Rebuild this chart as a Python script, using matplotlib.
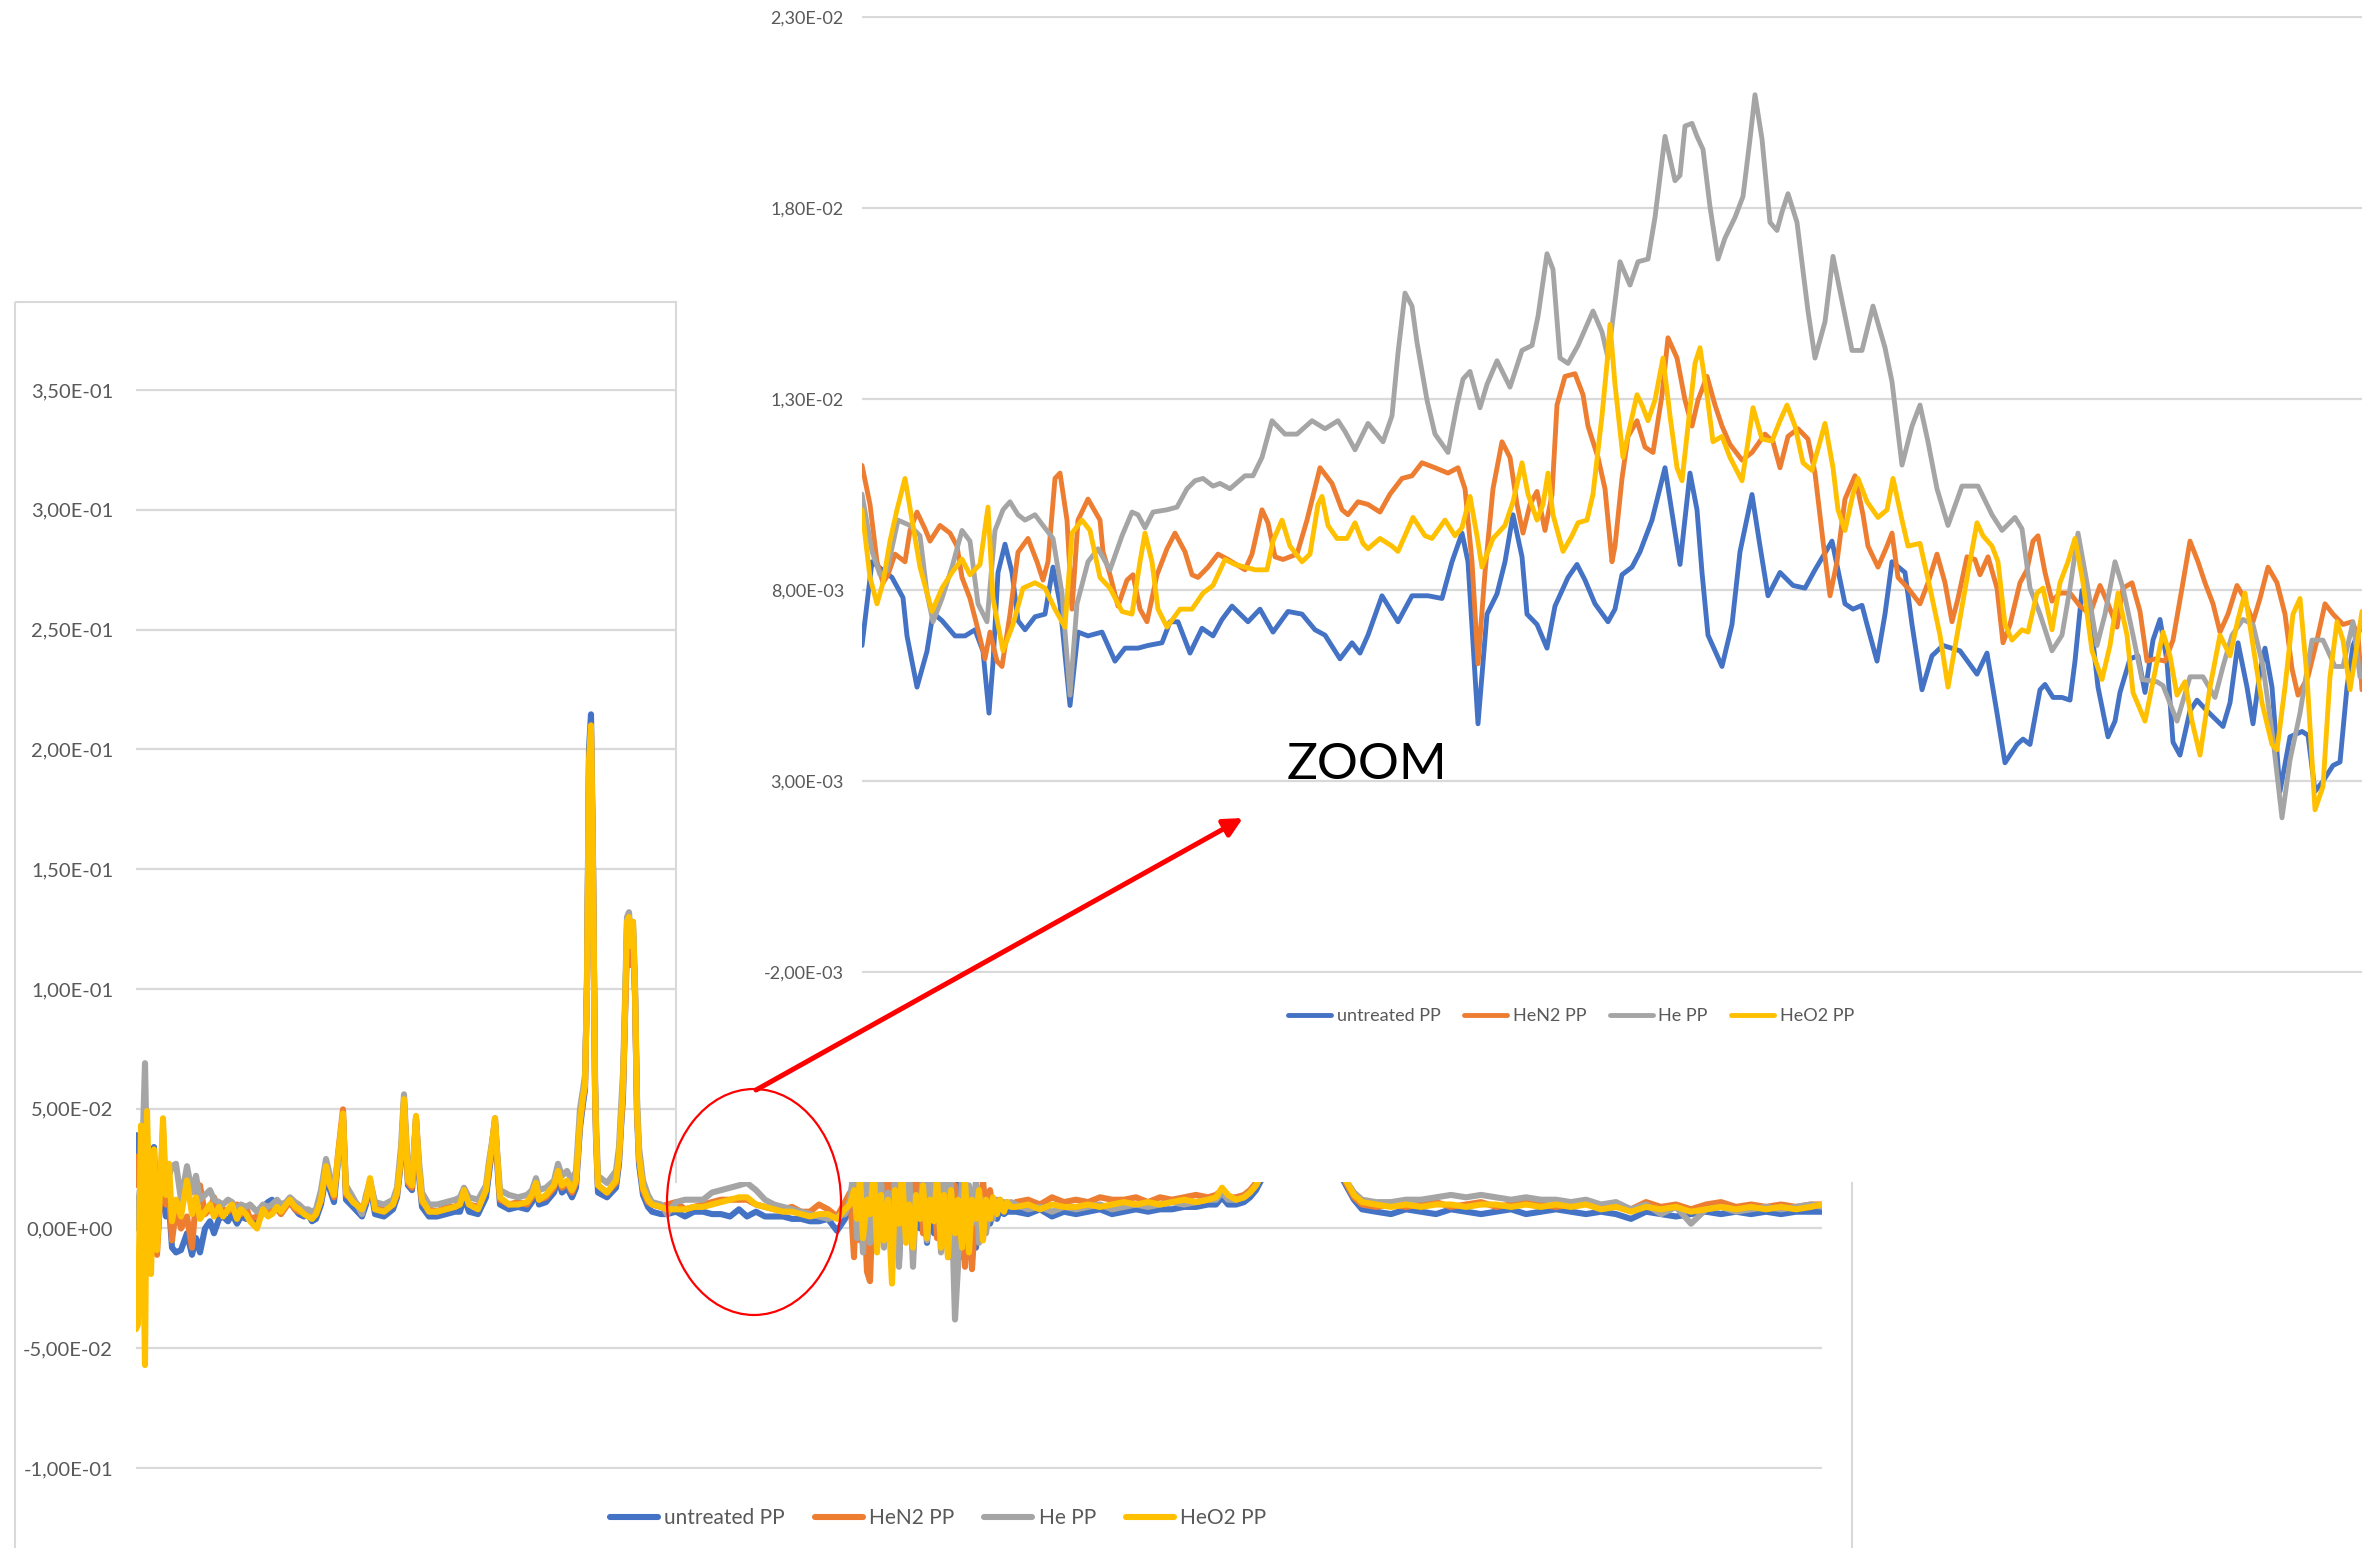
import numpy as np
import matplotlib

matplotlib.use("Agg")
import matplotlib.pyplot as plt
from matplotlib.patches import Rectangle, Ellipse, FancyArrowPatch
from matplotlib.lines import Line2D

plt.rcParams["font.family"] = ["Lato", "DejaVu Sans"]

W, H = 2371, 1548

SERIES = ["untreated PP", "HeN2 PP", "He PP", "HeO2 PP"]
COLORS = ["#4472C4", "#ED7D31", "#A5A5A5", "#FFC000"]
GRID = "#D9D9D9"
TXT = "#595959"

# ---------------- full scan (channel index, absorbance) ----------------
big_x = [
    0, 2, 5, 7, 9, 11, 15, 18, 21, 24, 27, 30, 33, 36, 40, 45,
    51, 56, 60, 64, 69, 74, 78, 83, 87, 92, 96, 101, 105, 110, 114, 121, 127, 132, 136, 141,
    145, 150, 154, 159, 163, 168, 172, 176, 180,
    185, 190, 194, 198, 202, 207, 210, 217, 226, 230, 234, 239, 248, 257, 261, 265, 268, 272, 276, 280,
    283, 286, 293, 301, 310, 319, 324, 328, 333, 342, 350, 353, 356, 359, 362, 364, 373, 382, 391, 396,
    400, 403, 410, 418, 422, 426, 431, 436, 440, 444, 447, 449, 451, 453, 455, 457, 459, 460, 462, 471,
    480, 483, 485, 487, 489, 491, 493, 495, 497, 499, 501, 503, 507, 512, 516, 525,
    531, 540, 549, 558, 567, 576, 585, 594, 603, 611, 620, 629, 638, 647, 656, 665, 674, 683, 692, 701, 709,
    714, 718, 721, 724, 727, 731, 734, 738, 741, 745, 748, 752, 756, 759, 763, 766, 770, 773, 777, 780,
    784, 787, 791, 794, 798, 801, 805, 808, 812, 815, 819, 822, 826, 829, 833, 836, 840, 843, 847, 850,
    854, 857, 861, 864, 868, 871, 875,
    880, 892, 904, 916, 928, 940, 952, 964, 976, 988, 1000, 1012, 1024, 1036, 1048, 1060, 1072, 1080,
    1086, 1092, 1100, 1108, 1114, 1120, 1125,
    1135, 1150, 1165, 1180, 1195, 1205,
    1210, 1218, 1226, 1240, 1255, 1270, 1285, 1300, 1315, 1330, 1345, 1360, 1375, 1390, 1405, 1420,
    1435, 1450, 1465, 1480, 1495, 1510, 1525, 1540, 1555, 1570, 1585, 1600, 1615, 1630, 1645, 1660,
    1675, 1686,
]

big_untreated = [
    0.039, 0.020, 0.030, 0.010, -0.020, 0.035, 0.000, 0.034, -0.006, 0.010, 0.025, 0.005, 0.010, -0.008, -0.010, -0.009,
    -0.002, -0.011, -0.004, -0.010, 0.000, 0.003, -0.002, 0.004, 0.005, 0.003, 0.006, 0.002, 0.005, 0.004, 0.004,
    0.003, 0.009, 0.011, 0.012, 0.008, 0.007, 0.010, 0.011, 0.008, 0.006, 0.005, 0.006, 0.003, 0.004,
    0.010, 0.022, 0.016, 0.011, 0.028, 0.046, 0.012, 0.009, 0.005, 0.010, 0.019, 0.006, 0.005, 0.008, 0.013,
    0.028, 0.052, 0.018, 0.016, 0.045, 0.022, 0.009, 0.005, 0.005, 0.006, 0.007, 0.007, 0.013, 0.007, 0.006,
    0.013, 0.023, 0.033, 0.044, 0.022, 0.010, 0.008, 0.009, 0.008, 0.011, 0.016, 0.010, 0.011, 0.015, 0.021,
    0.015, 0.017, 0.013, 0.017, 0.042, 0.052, 0.058, 0.105, 0.200, 0.2146, 0.155, 0.058, 0.038, 0.015, 0.013,
    0.017, 0.027, 0.042, 0.055, 0.088, 0.125, 0.127, 0.115, 0.125, 0.098, 0.048, 0.027, 0.014, 0.009, 0.007, 0.006,
    0.006, 0.007, 0.005, 0.007, 0.007, 0.006, 0.006, 0.005, 0.008, 0.005, 0.007, 0.005, 0.005, 0.005, 0.004,
    0.004, 0.003, 0.003, 0.004, -0.001, 0.004,
    0.008, 0.026, -0.002, 0.020, 0.000, 0.028, -0.004, 0.015, -0.008, 0.030, 0.002, 0.010, -0.006, 0.022, -0.014,
    0.015, -0.002, 0.018, -0.010, 0.020, 0.000, 0.028, -0.006, 0.016, -0.002, 0.030, -0.004, 0.022, -0.010, 0.018,
    0.000, 0.020, -0.012, 0.015, -0.004, 0.012, -0.008, 0.010, -0.003, 0.008, 0.002, 0.006, 0.004, 0.008, 0.006,
    0.007, 0.007,
    0.007, 0.006, 0.008, 0.005, 0.007, 0.006, 0.007, 0.008, 0.006, 0.007, 0.008, 0.007, 0.008, 0.008, 0.009,
    0.009, 0.010, 0.010, 0.013, 0.010, 0.010, 0.011, 0.013, 0.016, 0.020,
    0.028, 0.043, 0.057, 0.048, 0.033, 0.022,
    0.018, 0.012, 0.008, 0.007, 0.006, 0.008, 0.007, 0.006, 0.008, 0.007, 0.006, 0.007, 0.008, 0.006, 0.007,
    0.008, 0.007, 0.006, 0.007, 0.006, 0.004, 0.007, 0.006, 0.005, 0.006, 0.007, 0.006, 0.007, 0.006, 0.007,
    0.006, 0.007, 0.007, 0.007,
]

big_hen2 = [
    0.030, 0.018, 0.025, 0.005, -0.015, 0.030, -0.005, 0.025, -0.011, 0.012, 0.041, 0.010, 0.015, -0.005, 0.008, 0.000,
    0.005, -0.008, 0.012, 0.018, 0.006, 0.008, 0.013, 0.006, 0.008, 0.007, 0.009, 0.010, 0.006, 0.009, 0.004,
    0.005, 0.006, 0.008, 0.007, 0.008, 0.006, 0.009, 0.011, 0.008, 0.007, 0.007, 0.006, 0.005, 0.006,
    0.012, 0.024, 0.019, 0.013, 0.031, 0.0497, 0.014, 0.012, 0.008, 0.011, 0.020, 0.009, 0.008, 0.010, 0.014,
    0.029, 0.053, 0.019, 0.017, 0.046, 0.024, 0.011, 0.008, 0.007, 0.009, 0.009, 0.011, 0.016, 0.010, 0.009,
    0.016, 0.025, 0.035, 0.046, 0.024, 0.012, 0.010, 0.011, 0.010, 0.013, 0.018, 0.012, 0.013, 0.017, 0.023,
    0.017, 0.019, 0.015, 0.019, 0.044, 0.054, 0.060, 0.100, 0.193, 0.208, 0.150, 0.060, 0.040, 0.018, 0.015,
    0.019, 0.029, 0.044, 0.058, 0.090, 0.115, 0.122, 0.110, 0.120, 0.098, 0.050, 0.030, 0.016, 0.011, 0.010, 0.009,
    0.010, 0.011, 0.008, 0.009, 0.010, 0.011, 0.012, 0.012, 0.012, 0.012, 0.010, 0.009, 0.008, 0.008, 0.009,
    0.007, 0.007, 0.010, 0.008, 0.005, 0.011,
    0.015, -0.012, 0.028, -0.005, 0.020, -0.018, -0.022, 0.025, 0.002, 0.018, -0.004, 0.026, 0.000, -0.010, 0.020,
    0.005, 0.015, -0.004, 0.024, 0.010, 0.030, -0.002, 0.018, 0.006, 0.022, -0.004, 0.015, 0.000, 0.020, -0.012,
    0.018, -0.008, 0.006, -0.016, 0.012, -0.017, 0.010, 0.004, 0.020, 0.006, 0.016, 0.008, 0.010, 0.012, 0.008,
    0.011, 0.010,
    0.011, 0.012, 0.010, 0.013, 0.011, 0.012, 0.011, 0.013, 0.012, 0.012, 0.013, 0.011, 0.013, 0.012, 0.013,
    0.014, 0.013, 0.014, 0.016, 0.013, 0.013, 0.014, 0.016, 0.019, 0.022,
    0.030, 0.046, 0.058, 0.050, 0.036, 0.024,
    0.019, 0.013, 0.010, 0.009, 0.010, 0.009, 0.010, 0.011, 0.009, 0.010, 0.011, 0.009, 0.010, 0.011, 0.010,
    0.009, 0.010, 0.011, 0.009, 0.010, 0.008, 0.011, 0.009, 0.010, 0.008, 0.010, 0.011, 0.009, 0.010, 0.009,
    0.010, 0.009, 0.010, 0.010,
]

big_he = [
    0.000, 0.010, 0.020, 0.040, 0.069, 0.025, 0.010, 0.028, 0.015, 0.020, 0.030, 0.018, 0.022, 0.026, 0.027, 0.012,
    0.026, 0.015, 0.022, 0.012, 0.014, 0.016, 0.012, 0.011, 0.010, 0.012, 0.011, 0.008, 0.010, 0.009, 0.010,
    0.007, 0.010, 0.009, 0.010, 0.012, 0.010, 0.011, 0.013, 0.011, 0.010, 0.008, 0.008, 0.007, 0.008,
    0.016, 0.029, 0.022, 0.017, 0.028, 0.046, 0.018, 0.013, 0.006, 0.014, 0.020, 0.011, 0.010, 0.012, 0.017,
    0.034, 0.056, 0.023, 0.021, 0.046, 0.028, 0.015, 0.010, 0.010, 0.011, 0.012, 0.013, 0.017, 0.013, 0.012,
    0.018, 0.028, 0.036, 0.045, 0.027, 0.016, 0.014, 0.013, 0.014, 0.016, 0.021, 0.016, 0.017, 0.020, 0.027,
    0.022, 0.024, 0.020, 0.024, 0.050, 0.058, 0.064, 0.100, 0.190, 0.205, 0.150, 0.065, 0.045, 0.022, 0.019,
    0.024, 0.034, 0.050, 0.065, 0.095, 0.130, 0.132, 0.120, 0.128, 0.102, 0.055, 0.034, 0.020, 0.014, 0.011, 0.010,
    0.006, 0.011, 0.012, 0.012, 0.012, 0.015, 0.016, 0.017, 0.018, 0.019, 0.016, 0.012, 0.010, 0.009, 0.008,
    0.007, 0.006, 0.005, 0.004, 0.005, 0.006,
    0.012, 0.025, -0.004, 0.015, -0.010, 0.030, -0.006, 0.020, 0.000, 0.022, -0.008, 0.015, -0.004, 0.026, -0.016,
    0.018, 0.000, 0.025, -0.016, 0.012, 0.006, 0.024, -0.005, 0.020, 0.004, 0.026, -0.010, 0.030, -0.012, 0.020,
    -0.038, -0.016, 0.022, -0.004, 0.018, 0.002, 0.020, -0.006, 0.012, -0.002, 0.010, 0.004, 0.012, 0.008, 0.011,
    0.009, 0.011,
    0.010, 0.008, 0.009, 0.007, 0.009, 0.008, 0.009, 0.010, 0.008, 0.009, 0.010, 0.009, 0.010, 0.011, 0.010,
    0.011, 0.012, 0.012, 0.015, 0.012, 0.012, 0.013, 0.015, 0.018, 0.022,
    0.030, 0.046, 0.061, 0.052, 0.036, 0.025,
    0.020, 0.015, 0.012, 0.011, 0.011, 0.012, 0.012, 0.013, 0.014, 0.013, 0.014, 0.013, 0.012, 0.013, 0.012,
    0.012, 0.011, 0.012, 0.010, 0.011, 0.008, 0.010, 0.006, 0.009, 0.002, 0.008, 0.009, 0.007, 0.008, 0.009,
    0.008, 0.009, 0.010, 0.009,
]

big_heo2 = [
    -0.042, -0.040, 0.043, 0.001, -0.057, 0.049, -0.019, 0.033, -0.009, 0.015, 0.046, 0.014, 0.027, 0.003, 0.012, 0.005,
    0.020, 0.006, 0.013, 0.004, 0.007, 0.010, 0.005, 0.009, 0.005, 0.008, 0.010, 0.004, 0.008, 0.006, 0.003,
    0.000, 0.008, 0.005, 0.006, 0.009, 0.007, 0.010, 0.012, 0.009, 0.008, 0.006, 0.005, 0.004, 0.006,
    0.012, 0.026, 0.018, 0.014, 0.030, 0.048, 0.015, 0.011, 0.008, 0.012, 0.021, 0.008, 0.007, 0.010, 0.015,
    0.030, 0.054, 0.020, 0.018, 0.047, 0.025, 0.012, 0.007, 0.007, 0.008, 0.009, 0.010, 0.016, 0.010, 0.008,
    0.016, 0.026, 0.035, 0.046, 0.025, 0.013, 0.010, 0.010, 0.011, 0.014, 0.019, 0.012, 0.014, 0.018, 0.024,
    0.018, 0.020, 0.016, 0.020, 0.045, 0.055, 0.060, 0.100, 0.195, 0.210, 0.150, 0.060, 0.040, 0.018, 0.015,
    0.020, 0.030, 0.045, 0.060, 0.090, 0.128, 0.130, 0.118, 0.128, 0.100, 0.050, 0.030, 0.017, 0.012, 0.010, 0.009,
    0.008, 0.008, 0.008, 0.009, 0.009, 0.010, 0.011, 0.012, 0.013, 0.013, 0.010, 0.009, 0.008, 0.007, 0.007,
    0.006, 0.005, 0.006, 0.006, 0.004, 0.008,
    0.010, 0.016, 0.004, 0.022, -0.004, 0.012, 0.006, 0.025, -0.010, 0.014, -0.005, 0.012, -0.023, 0.016, 0.002,
    0.024, -0.006, 0.010, -0.008, 0.014, 0.004, 0.018, -0.004, 0.012, 0.003, 0.022, -0.008, 0.014, -0.012, 0.016,
    -0.002, 0.012, -0.008, 0.020, -0.010, 0.012, 0.004, 0.016, -0.005, 0.012, 0.004, 0.013, 0.006, 0.012, 0.007,
    0.011, 0.009,
    0.009, 0.010, 0.008, 0.010, 0.009, 0.009, 0.010, 0.009, 0.010, 0.011, 0.010, 0.011, 0.010, 0.011, 0.012,
    0.011, 0.012, 0.013, 0.017, 0.014, 0.012, 0.013, 0.015, 0.018, 0.022,
    0.030, 0.045, 0.060, 0.050, 0.035, 0.024,
    0.020, 0.014, 0.011, 0.010, 0.009, 0.010, 0.009, 0.010, 0.010, 0.009, 0.010, 0.010, 0.009, 0.010, 0.009,
    0.010, 0.009, 0.010, 0.008, 0.009, 0.007, 0.009, 0.008, 0.009, 0.007, 0.008, 0.009, 0.008, 0.009, 0.008,
    0.009, 0.008, 0.009, 0.010,
]

big_ticks = [-0.10, -0.05, 0.00, 0.05, 0.10, 0.15, 0.20, 0.25, 0.30, 0.35]

# ---------------- zoomed window (channel index, absorbance x 1e-3) ----------------
zoom_untreated_x = [
    0, 10, 30, 41, 45, 55, 65, 71, 80, 93, 103, 113, 121, 127, 131, 136, 143, 150, 156, 163,
    173, 183, 191, 198, 208, 216, 226, 240, 253, 263, 276, 286, 300, 308, 316, 328, 340, 351, 360, 370,
    386, 398, 411, 426, 440, 453, 463, 478, 490, 498, 506, 520, 536, 550, 566, 580, 590, 600, 606, 616,
    625, 635, 643, 651, 660, 665, 675, 685, 693, 706, 715, 723, 733, 746,
    753, 760, 770, 778, 790, 803, 818, 828, 835, 840, 846, 860, 870, 878, 890, 898, 906, 918, 931, 943,
    953, 970, 983, 991, 1000, 1005, 1015, 1023, 1030, 1043, 1050, 1060, 1070, 1081, 1098, 1115, 1125,
    1135, 1143, 1155, 1161, 1168, 1178, 1183, 1191, 1200, 1208, 1213, 1220, 1228, 1236, 1246, 1253, 1258,
    1268, 1276, 1283, 1291, 1298, 1305, 1311, 1318, 1328, 1335, 1345, 1361, 1368, 1376, 1385, 1391, 1398,
    1403, 1410, 1418, 1428, 1440, 1446, 1453, 1461, 1471, 1478, 1485, 1491, 1500,
]
zoom_untreated = [
    6.55, 8.74, 8.33, 7.8, 6.8, 5.46, 6.4, 7.4, 7.2, 6.8, 6.8, 6.96, 6.4, 4.78, 6.1, 8.46, 9.2, 8.46, 7.2, 6.96,
    7.3, 7.37, 8.6, 7.64, 4.98, 6.9, 6.8, 6.9, 6.14, 6.48, 6.48, 6.55, 6.62, 7.17, 7.17, 6.35, 7.0, 6.8, 7.23, 7.58,
    7.17, 7.5, 6.9, 7.44, 7.37, 6.96, 6.82, 6.2, 6.62, 6.35, 6.82, 7.85, 7.17, 7.85, 7.85, 7.78, 8.74, 9.49, 8.74, 4.5,
    7.37, 7.9, 8.74, 9.97, 8.87, 7.37, 7.1, 6.48, 7.58, 8.33, 8.67, 8.26, 7.64, 7.17,
    7.5, 8.4, 8.6, 9.0, 9.83, 11.2, 8.67, 11.06, 10.1, 8.46, 6.82, 6.0, 7.1, 9.0, 10.5, 9.15, 7.85, 8.46, 8.12, 8.05,
    8.53, 9.28, 7.64, 7.5, 7.6, 7.1, 6.14, 7.37, 8.74, 8.46, 7.1, 5.39, 6.28, 6.55, 6.41, 5.8, 6.35,
    4.78, 3.48, 3.96, 4.1, 3.96, 5.39, 5.53, 5.19, 5.19, 5.12, 6.14, 7.99, 7.37, 5.46, 4.16, 4.57, 5.32,
    6.2, 6.28, 5.32, 6.69, 7.23, 6.14, 4.02, 3.68, 4.84, 5.12, 4.84, 4.43, 5.05, 6.62, 5.46, 4.5, 5.87,
    6.48, 5.46, 2.73, 4.16, 4.3, 4.2, 2.73, 3.0, 3.41, 3.5, 5.46, 6.55, 7.1,
]

zoom_hen2_x = [
    0, 8, 15, 21, 26, 33, 43, 48, 55, 63, 68, 78, 88, 95, 100, 108, 116, 123, 128, 135,
    140, 148, 156, 166, 175, 181, 186, 193, 198, 205, 210, 216, 226, 238, 241, 248, 256, 265, 271, 278,
    285, 295, 305, 313, 323, 330, 336, 346, 356, 366, 383,
    390, 400, 406, 413, 421, 435, 445, 458, 470, 480, 486, 496, 506, 518, 528, 540, 550, 560, 573, 586,
    596, 603, 610, 616, 623, 631, 640, 648, 655, 661, 668, 675, 683, 690, 695, 703, 713, 721, 726, 736,
    743, 750,
    753, 760, 766, 775, 783, 791, 800, 806, 815, 823, 830, 836, 845, 853, 860, 868, 880, 890, 903, 911,
    918, 926, 936, 946, 953, 961, 968, 975, 983, 993, 1001, 1006, 1016, 1025, 1030, 1036, 1046, 1058, 1066, 1075,
    1083, 1090, 1096, 1105, 1113, 1118, 1126,
    1135, 1141, 1148, 1158, 1165, 1171, 1176, 1183, 1190, 1198, 1208, 1218, 1228, 1238, 1246, 1255, 1261, 1270,
    1278, 1285, 1293, 1303, 1311, 1320, 1328, 1336, 1343, 1351, 1358, 1366, 1375, 1381, 1391, 1398, 1406, 1415,
    1423, 1430, 1436, 1446, 1455, 1463, 1471, 1481, 1490, 1496, 1500,
]
zoom_hen2 = [
    11.26, 10.24, 8.74, 8.19, 8.4, 8.94, 8.74, 9.56, 10.04, 9.6, 9.28, 9.69, 9.49, 9.15, 8.33, 7.78, 6.96, 6.2, 6.9, 6.14,
    6.0, 7.37, 8.99, 9.35, 8.74, 8.26, 8.74, 10.92, 11.06, 9.83, 7.5, 9.83, 10.38, 9.83, 9.0, 8.4, 7.58, 8.26, 8.4, 7.5,
    7.17, 8.4, 9.08, 9.49, 9.0, 8.4, 8.33, 8.6, 8.94, 8.8, 8.53,
    8.94, 10.1, 9.76, 8.87, 8.8, 8.94, 9.83, 11.2, 10.79, 10.1, 9.97, 10.31, 10.24, 10.04, 10.51, 10.92, 10.99, 11.33, 11.2, 11.06,
    11.2, 10.65, 8.74, 6.07, 8.46, 10.65, 11.88, 11.47, 10.24, 9.49, 10.24, 10.58, 9.56, 10.5, 12.84, 13.59, 13.66, 13.11, 12.29, 11.47,
    10.65, 8.74,
    9.15, 10.92, 12.02, 12.43, 11.74, 11.6, 13.1, 14.6, 14.07, 12.97, 12.29, 12.97, 13.59, 12.84, 12.29, 11.81, 11.4, 11.6, 12.08, 11.88,
    11.2, 12.02, 12.22, 11.95, 11.06, 9.28, 7.85, 8.74, 10.38, 10.99, 9.97, 9.15, 8.6, 9.15, 9.49, 8.33, 8.05, 7.64, 8.19, 8.94,
    8.19, 7.17, 7.78, 8.87, 8.8, 8.4, 8.87,
    8.05, 6.62, 7.1, 8.19, 8.53, 9.28, 9.42, 8.46, 7.71, 7.92, 7.92, 7.58, 7.37, 8.12, 7.64, 7.03, 8.05, 8.19,
    7.44, 6.14, 6.2, 6.14, 6.69, 8.05, 9.28, 8.74, 8.19, 7.64, 6.9, 7.37, 8.12, 7.85, 7.17, 7.78, 8.6, 8.19,
    7.37, 5.94, 5.25, 5.73, 6.69, 7.64, 7.37, 7.1, 7.17, 6.82, 5.39,
]

zoom_he_x = [
    0, 10, 18, 25, 36, 48, 58, 65, 71, 80, 90, 100, 108, 116, 125, 133, 141, 148, 156, 163,
    173, 181, 191, 200, 208, 215, 226, 236, 248, 260, 270, 276, 283, 291, 305, 315, 325, 333, 341, 351,
    358, 368,
    383, 391, 400, 410, 423, 435, 450, 463, 476, 483, 493, 506, 521, 530, 536, 543, 550, 555, 565, 573,
    586, 595, 601, 608, 618, 625, 635, 648, 660, 670, 676, 685, 691, 698, 706, 716, 731, 740, 746,
    758, 768, 776, 786, 793, 803, 813, 818, 823, 830, 835, 841, 848, 856, 863, 873, 881, 888, 893, 900,
    908, 915, 920, 926, 935, 946, 953, 963, 971, 981, 990, 1000, 1011, 1023, 1030, 1040, 1050, 1058, 1066, 1075,
    1086, 1100, 1116, 1130,
    1140, 1153, 1160, 1168, 1178, 1190, 1200, 1208, 1216, 1225, 1235, 1243, 1253, 1261, 1271, 1280, 1295, 1301,
    1315, 1328, 1341, 1353, 1361, 1370, 1381, 1391, 1401, 1411, 1420, 1428, 1438, 1450, 1461, 1473, 1481, 1491,
    1498,
]
zoom_he = [
    10.51, 9.01, 8.4, 8.5, 9.83, 9.69, 9.42, 7.92, 7.17, 7.78, 8.6, 9.56, 9.28, 7.64, 7.17, 9.56, 10.1, 10.31, 9.97, 9.83,
    9.97, 9.69, 9.35, 7.92, 5.25, 7.64, 8.74, 9.08, 8.53, 9.42, 10.04, 9.97, 9.63, 10.04, 10.1, 10.17, 10.65, 10.86, 10.92, 10.72,
    10.79, 10.65,
    10.99, 10.99, 11.47, 12.43, 12.08, 12.08, 12.43, 12.22, 12.43, 12.15, 11.67, 12.36, 11.88, 12.56, 14.2, 15.77, 15.43, 14.48, 12.97, 12.08,
    11.6, 12.84, 13.52, 13.72, 12.77, 13.38, 14.0, 13.31, 14.27, 14.4, 15.16, 16.8, 16.39, 14.07, 13.93, 14.4, 15.3, 14.75, 14.07,
    16.59, 15.98, 16.59, 16.66, 17.75, 19.87, 18.71, 18.85, 20.14, 20.21, 19.87, 19.53, 18.03, 16.66, 17.21, 17.75, 18.3, 19.8, 20.96, 19.8,
    17.62, 17.41, 17.89, 18.37, 17.62, 15.3, 14.07, 15.02, 16.73, 15.43, 14.27, 14.27, 15.43, 14.34, 13.45, 11.27, 12.29, 12.84, 11.88, 10.65,
    9.69, 10.72, 10.72, 9.97,
    9.56, 9.9, 9.6, 8.05, 7.37, 6.41, 6.82, 8.05, 9.49, 8.19, 6.55, 7.37, 8.74, 8.05, 6.82, 5.66, 5.6, 5.5,
    4.57, 5.73, 5.73, 5.19, 6.0, 6.82, 7.23, 7.1, 6.0, 4.1, 2.04, 3.55, 4.78, 6.69, 6.69, 6.0, 6.0, 7.17,
    5.73,
]

zoom_heo2_x = [
    0, 8, 15, 21, 28, 35, 43, 50, 58, 70, 80, 90, 100, 108, 118, 126, 131, 141, 151, 161,
    173, 183, 193, 203, 210, 220, 228, 238, 248, 260, 270, 278, 283, 290, 296, 305, 318, 330, 341, 351,
    363, 373,
    383, 393, 405, 411, 420, 428, 440, 448, 456, 460, 466, 475, 485, 493, 501, 506, 518, 530, 536, 551,
    563, 570, 583, 593, 600, 608, 615, 620, 631, 643, 651, 660, 666, 675, 681, 686, 691, 701, 710, 716,
    725, 731, 740, 745, 748, 753,
    761, 768, 775, 780, 786, 793, 801, 808, 815, 820, 826, 833, 838, 845, 851, 860, 868, 880, 886, 891,
    900, 910, 918, 925, 933, 941, 950, 963, 971, 976, 983, 991, 996, 1005, 1016, 1025, 1031, 1040, 1046, 1058,
    1068, 1078, 1086, 1096, 1106, 1115, 1121, 1130,
    1136, 1143, 1150, 1160, 1166, 1175, 1181, 1190, 1198, 1206, 1213, 1221, 1230, 1240, 1248, 1256, 1265, 1271,
    1283, 1291, 1301, 1308, 1315, 1323, 1330, 1338, 1348, 1358, 1368, 1376, 1383, 1391, 1400, 1410, 1415, 1423,
    1431, 1438, 1445, 1453, 1461, 1468, 1475, 1481, 1488, 1495, 1500,
]
zoom_heo2 = [
    10.1, 8.33, 7.64, 8.19, 9.28, 10.1, 10.92, 9.83, 8.6, 7.44, 8.05, 8.46, 8.81, 8.4, 8.67, 10.17, 7.78, 6.41, 7.1, 8.05,
    8.19, 8.05, 7.5, 7.03, 9.49, 9.83, 9.56, 8.33, 8.05, 7.44, 7.37, 8.74, 9.49, 8.74, 7.5, 7.03, 7.5, 7.5, 7.92, 8.12,
    8.8, 8.67,
    8.6, 8.53, 8.53, 9.28, 9.83, 9.15, 8.74, 8.94, 10.24, 10.45, 9.69, 9.35, 9.35, 9.76, 9.22, 9.08, 9.35, 9.15, 9.01, 9.9,
    9.42, 9.35, 9.83, 9.42, 9.63, 10.45, 9.42, 8.6, 9.35, 9.69, 10.31, 11.33, 10.51, 9.83, 10.24, 11.06, 9.97, 9.01, 9.42, 9.76,
    9.83, 10.51, 12.56, 13.93, 14.95, 13.38,
    11.47, 12.29, 13.11, 12.84, 12.43, 12.97, 14.07, 12.56, 11.2, 10.86, 12.29, 13.93, 14.34, 13.11, 11.88, 12.02, 11.47, 10.86, 11.88, 12.77,
    11.95, 11.9, 12.43, 12.84, 12.29, 11.33, 11.13, 12.36, 11.2, 10.1, 9.56, 10.51, 10.92, 10.31, 9.9, 10.1, 10.92, 9.83, 9.15, 9.22,
    8.05, 6.82, 5.46, 6.96, 8.46, 9.76, 9.42, 9.15,
    8.74, 7.1, 6.69, 6.96, 6.9, 7.92, 8.05, 6.96, 8.19, 8.74, 9.35, 8.19, 6.41, 5.66, 6.55, 7.92, 6.82, 5.32,
    4.57, 5.6, 6.9, 6.28, 5.25, 5.6, 4.57, 3.68, 5.46, 6.82, 6.28, 7.23, 7.92, 6.55, 5.05, 3.96, 3.82, 5.46,
    7.37, 7.78, 5.73, 2.25, 2.86, 5.73, 7.17, 6.69, 5.39, 6.55, 7.44,
]

zoom_ticks = [-0.002, 0.003, 0.008, 0.013, 0.018, 0.023]


def box(x0, y0, x1, y1):
    """pixel box (origin top-left) -> figure rect"""
    return [x0 / W, 1 - y1 / H, (x1 - x0) / W, (y1 - y0) / H]


def sci(v):
    return f"{v:.2E}".replace(".", ",")


def style_axes(ax, ticks, fontsize, pad):
    ax.set_yticks(ticks)
    ax.set_yticklabels([sci(t) for t in ticks])
    ax.set_xticks([])
    ax.tick_params(axis="y", length=0, pad=pad, labelsize=fontsize, labelcolor=TXT)
    ax.grid(axis="y", color=GRID, lw=1.6)
    ax.set_axisbelow(True)
    for sp in ax.spines.values():
        sp.set_visible(False)
    ax.set_facecolor("none")


def layer(z):
    ax = fig.add_axes([0, 0, 1, 1], zorder=z)
    ax.set_xlim(0, W)
    ax.set_ylim(H, 0)
    ax.axis("off")
    return ax


fig = plt.figure(figsize=(W / 100, H / 100), dpi=100)
fig.patch.set_facecolor("white")

# frame of the full-scan chart (partly hidden by the zoom panel)
back = layer(-1)
back.add_patch(Rectangle((15, 302), 1837, 1300, fill=False, edgecolor=GRID, lw=1.5))

# ---------- full scan ----------
ax_big = fig.add_axes(box(136, 389, 1822, 1469), zorder=0)
for vals, name, col in zip([big_untreated, big_hen2, big_he, big_heo2], SERIES, COLORS):
    ax_big.plot(big_x, vals, color=col, lw=4.4, label=name,
                solid_joinstyle="round", solid_capstyle="round")
ax_big.set_xlim(0, 1686)
ax_big.set_ylim(-0.1004, 0.3504)
style_axes(ax_big, big_ticks, 14.5, 16.5)
ax_big.legend(loc="center", bbox_to_anchor=(938 / W, 1 - 1518 / H), bbox_transform=fig.transFigure,
              ncol=4, frameon=False, fontsize=15, handlelength=2.3, handletextpad=0.3,
              columnspacing=1.45, labelcolor=TXT)

# white panel carrying the zoomed chart
mask = layer(1)
mask.add_patch(Rectangle((676, -5), W - 676 + 5, 1182 + 5, facecolor="white", edgecolor="none"))
mask.add_line(Line2D([676, 676], [302, 1182], color=GRID, lw=1.5))

# ---------- zoomed window ----------
ax_zoom = fig.add_axes(box(862, 16, 2362, 973), zorder=2)
for xs, vals, name, col in zip([zoom_untreated_x, zoom_hen2_x, zoom_he_x, zoom_heo2_x],
                               [zoom_untreated, zoom_hen2, zoom_he, zoom_heo2], SERIES, COLORS):
    ax_zoom.plot(xs, np.array(vals) * 1e-3, color=col, lw=3.5, label=name,
                 solid_joinstyle="round", solid_capstyle="round")
ax_zoom.set_xlim(0, 1500)
ax_zoom.set_ylim(-0.00202, 0.02302)
style_axes(ax_zoom, zoom_ticks, 13, 13)
ax_zoom.legend(loc="center", bbox_to_anchor=(1571 / W, 1 - 1016 / H), bbox_transform=fig.transFigure,
               ncol=4, frameon=False, fontsize=13, handlelength=2.4, handletextpad=0.3,
               columnspacing=1.3, labelcolor=TXT)

# ---------- callout ----------
top = layer(3)
top.add_patch(Ellipse((754, 1202), 174, 226, fill=False, edgecolor="#FF0000", lw=1.6))
top.add_patch(FancyArrowPatch((756, 1090), (1243, 818), arrowstyle="-|>", mutation_scale=28,
                              color="#FF0000", lw=3.6, shrinkA=0, shrinkB=0))
top.text(1287, 779, "ZOOM", fontsize=37, color="black", ha="left", va="baseline")

fig.savefig("out.png", dpi=100, facecolor="white")
